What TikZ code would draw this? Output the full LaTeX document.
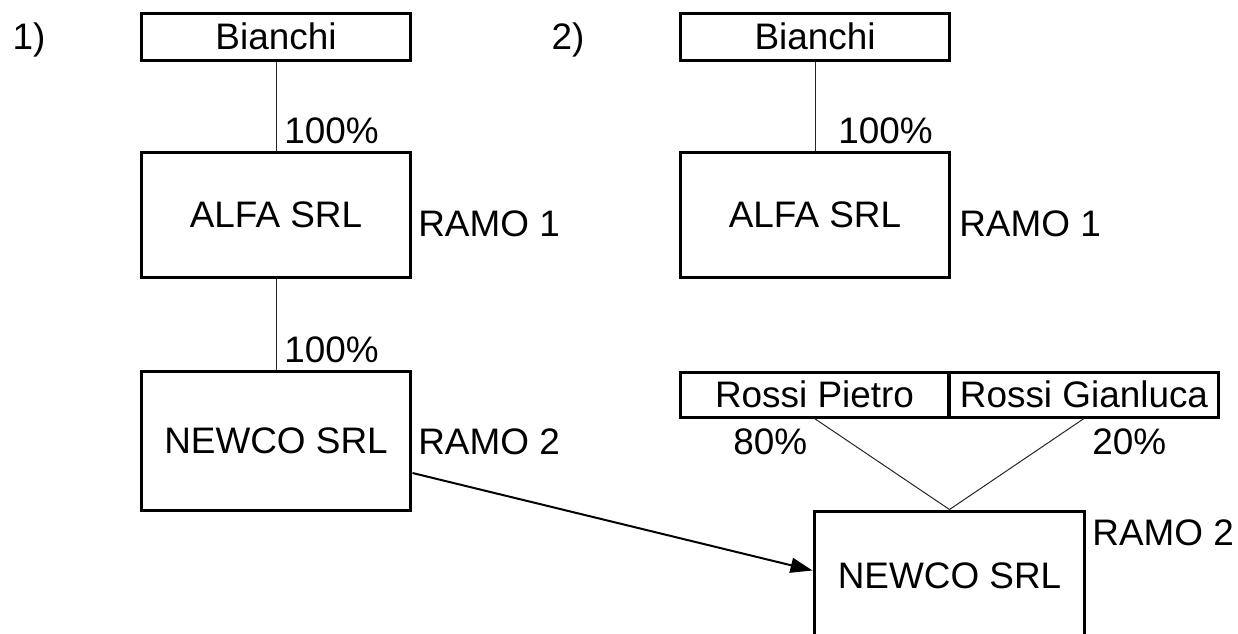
\documentclass[tikz,border=0pt]{standalone}
\usepackage{fontspec}
\setmainfont{Liberation Sans}
\usetikzlibrary{arrows.meta}
\tikzset{
    smallbox/.style={draw=black, line width=0.06cm, minimum width=5.4cm, minimum height=0.94cm, inner sep=0pt},
    bigbox/.style={draw=black, line width=0.06cm, minimum width=5.4cm, minimum height=2.52cm, inner sep=0pt},
    share/.style={line width=0.02cm, black!85},
    lbl/.style={anchor=base west, inner sep=0pt}
}

\begin{document}
\begin{tikzpicture}[x=0.02cm, y=-0.02cm, every node/.style={font=\fontsize{21}{25}\selectfont}]
        \useasboundingbox (0,0) rectangle (1238,633);
        \clip (0,0) rectangle (1238,633);
        \node (num1) at (29,40) {1)};
        \node (num2) at (568,40) {2)};
        \node[smallbox] (bianchi1) at (276,36.5) {Bianchi};
        \node[bigbox] (alfa1) at (276,215) {ALFA SRL};
        \node[bigbox, minimum height=2.8cm] (newco1) at (276,441) {NEWCO SRL};
        \node[smallbox] (bianchi2) at (815,36.5) {Bianchi};
        \node[bigbox] (alfa2) at (815,215) {ALFA SRL};
        \node[smallbox, minimum width=5.38cm, minimum height=0.9cm] (pietro) at (814.5,394.5) {Rossi Pietro};
        \node[smallbox, minimum height=0.9cm] (gianluca) at (1084,394.5) {Rossi Gianluca};
        \node[bigbox, minimum width=5.42cm, minimum height=2.58cm] (newco2) at (949.5,575.5) {NEWCO SRL};
        \draw[share] (bianchi1.south) -- (alfa1.north);
        \draw[share] (alfa1.south) -- (newco1.north);
        \draw[share] (bianchi2.south) -- (alfa2.north);
        \draw[share] (pietro.south) -- (newco2.north);
        \draw[share] (gianluca.south) -- (newco2.north);
        \draw[line width=0.04cm, -{Triangle[length=0.44cm, width=0.3cm]}] ([yshift=-0.64cm]newco1.east) -- ([yshift=0.1cm]newco2.west);
        \node[lbl] (p1) at (284,143) {100\%};
        \node[lbl] (p2) at (284,362) {100\%};
        \node[lbl] (p3) at (838,143) {100\%};
        \node[lbl] (p4) at (733,454.5) {80\%};
        \node[lbl] (p5) at (1092,454.5) {20\%};
        \node[lbl] (ramo1a) at (418,236) {RAMO 1};
        \node[lbl] (ramo2a) at (418,454.5) {RAMO 2};
        \node[lbl] (ramo1b) at (959,236) {RAMO 1};
        \node[lbl] (ramo2b) at (1092,545.5) {RAMO 2};
    \end{tikzpicture}
\end{document}
